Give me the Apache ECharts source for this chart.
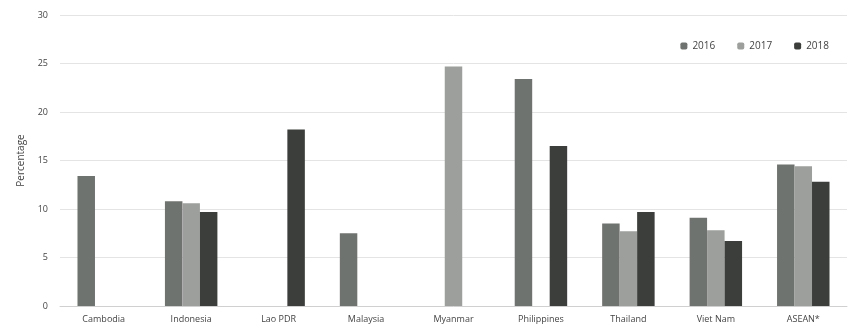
<!DOCTYPE html>
<html>
<head>
<meta charset="utf-8">
<script src="https://cdn.jsdelivr.net/npm/echarts@6/dist/echarts.min.js"></script>
<style>
  html, body { margin: 0; padding: 0; background: #fff; }
  #chart { width: 854px; height: 331px; }
</style>
</head>
<body>
<div id="chart"></div>
<script>
// Countries on the category axis
const countries = ['Cambodia', 'Indonesia', 'Lao PDR', 'Malaysia', 'Myanmar', 'Philippines', 'Thailand', 'Viet Nam', 'ASEAN*'];

// Percentage by year (null = no data)
const values2016 = [13.4, 10.8, null, 7.5, null, 23.4, 8.5, 9.1, 14.6];
const values2017 = [null, 10.6, null, null, 24.7, null, 7.7, 7.8, 14.4];
const values2018 = [null, 9.7, 18.2, null, null, 16.5, 9.7, 6.7, 12.8];

const years = ['2016', '2017', '2018'];
const yearColors = ['#6f736f', '#9c9f9c', '#3b3e3b'];

const chart = echarts.init(document.getElementById('chart'));

const seriesData = [values2016, values2017, values2018];

chart.setOption({
  animation: false,
  textStyle: { fontFamily: 'Open Sans, Noto Sans, sans-serif' },
  legend: {
    top: 36,
    right: 20,
    itemWidth: 7,
    itemHeight: 7,
    itemGap: 22,
    textStyle: { fontSize: 10, color: '#444' },
    data: years
  },
  grid: { left: 60, right: 7, top: 15, bottom: 25 },
  xAxis: {
    type: 'category',
    data: countries,
    axisLine: { lineStyle: { color: '#d0d0d0' } },
    axisTick: { show: false },
    axisLabel: { fontSize: 9, color: '#444', margin: 9 }
  },
  yAxis: {
    type: 'value',
    min: 0,
    max: 30,
    interval: 5,
    name: 'Percentage',
    nameLocation: 'middle',
    nameGap: 34,
    nameTextStyle: { fontSize: 10, color: '#444' },
    axisLine: { show: false },
    axisTick: { show: false },
    axisLabel: { fontSize: 9, color: '#444', margin: 12 },
    splitLine: { lineStyle: { color: '#e4e4e4' } }
  },
  series: years.map((y, i) => ({
    name: y,
    type: 'bar',
    data: seriesData[i],
    barGap: '0%',
    barCategoryGap: '40%',
    itemStyle: { color: yearColors[i] }
  }))
});
</script>
</body>
</html>
